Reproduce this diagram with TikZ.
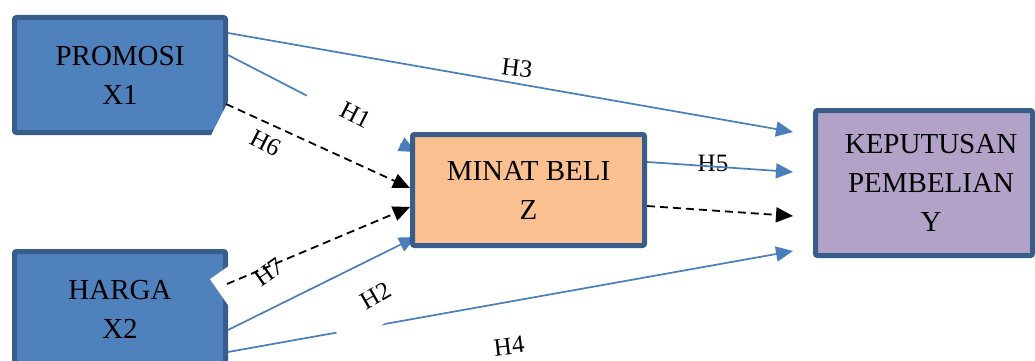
\documentclass[tikz,border=0pt]{standalone}
\usepackage{fontspec}
\setmainfont{Liberation Serif}
\usetikzlibrary{arrows.meta}
\definecolor{boxblue}{HTML}{4F81BD}
\definecolor{boxedge}{HTML}{385D8A}
\definecolor{peach}{HTML}{FAC090}
\definecolor{lilac}{HTML}{B3A2C7}
\definecolor{linkblue}{HTML}{4A7EBB}
\pgfdeclarelayer{base}
\pgfdeclarelayer{labels}
\pgfdeclarelayer{front}
\pgfsetlayers{base,labels,main,front}
\tikzset{
  varbox/.style={draw=boxedge, line width=5pt, rounded corners=2pt, inner sep=0pt,
    align=center, font=\fontsize{29}{39}\selectfont},
  hyp/.style={fill=white, inner sep=0pt, minimum width=105pt, minimum height=56pt,
    font=\fontsize{25}{28}\selectfont},
  bluelink/.style={draw=linkblue, line width=1.7pt, -{Triangle[length=17pt,width=15pt]}},
  dashlink/.style={draw=black, line width=1.8pt, dash pattern=on 8pt off 5pt,
    -{Triangle[length=17pt,width=15pt]}},
}
\begin{document}
\begin{tikzpicture}[x=1pt,y=-1pt]
\useasboundingbox (0,0) rectangle (1035,361);

% boxes
\begin{pgfonlayer}{base}
\node[varbox, fill=boxblue, minimum width=211pt, minimum height=115pt] (promosi) at (120,75) {PROMOSI\\X1};
\node[varbox, fill=boxblue, minimum width=211pt, minimum height=115pt] (harga) at (120,309) {HARGA\\X2};
\node[varbox, fill=lilac, minimum width=217pt, minimum height=145pt,
  label={[align=center, font=\fontsize{29}{39}\selectfont, xshift=7pt]center:KEPUTUSAN\\PEMBELIAN\\Y}] (kep) at (924,183) {};
\end{pgfonlayer}
\begin{pgfonlayer}{front}
\node[varbox, fill=peach, minimum width=232pt, minimum height=111pt] (minat) at (528.5,190) {MINAT BELI\\Z};
\end{pgfonlayer}

% connector end points
\coordinate (p3) at (228,33);
\coordinate (p1) at (228,55);
\coordinate (p6) at (226,104);
\coordinate (h7s) at (227,284);
\coordinate (h2s) at (228,330);
\coordinate (h4s) at (228,352);
\coordinate (m1) at (416,152);
\coordinate (m6) at (410,188);
\coordinate (m7) at (410,207);
\coordinate (m2) at (416,237);
\coordinate (z5) at (647,162);
\coordinate (zd) at (647,206);
\coordinate (k3) at (793,132);
\coordinate (k5) at (793,172);
\coordinate (kd) at (793,216);
\coordinate (k4) at (793,251);

% lines partly hidden by label boxes
\begin{pgfonlayer}{base}
\draw[bluelink] (p1) -- (m1);
\draw[bluelink] (h4s) -- (k4);
\end{pgfonlayer}

% labels
\begin{pgfonlayer}{labels}
\node[hyp, rotate=-27] (lh6) at (266,143) {H6};
\node[hyp, rotate=-27] (lh1) at (356,115) {H1};
\node[hyp, rotate=35] (lh7) at (269,272) {H7};
\node[hyp, rotate=30] (lh2) at (376,296) {H2};
\node[hyp, rotate=-7] (lh3) at (517,68) {H3};
\node[hyp] (lh5) at (713,163) {H5};
\node[hyp, rotate=7] (lh4) at (509,346) {H4};
\end{pgfonlayer}

% other connectors
\draw[bluelink] (p3) -- (k3);
\draw[bluelink] (z5) -- (k5);
\draw[bluelink] (h2s) -- (m2);
\draw[dashlink] (p6) -- (m6);
\draw[dashlink] (h7s) -- (m7);
\draw[dashlink] (zd) -- (kd);
\end{tikzpicture}
\end{document}
